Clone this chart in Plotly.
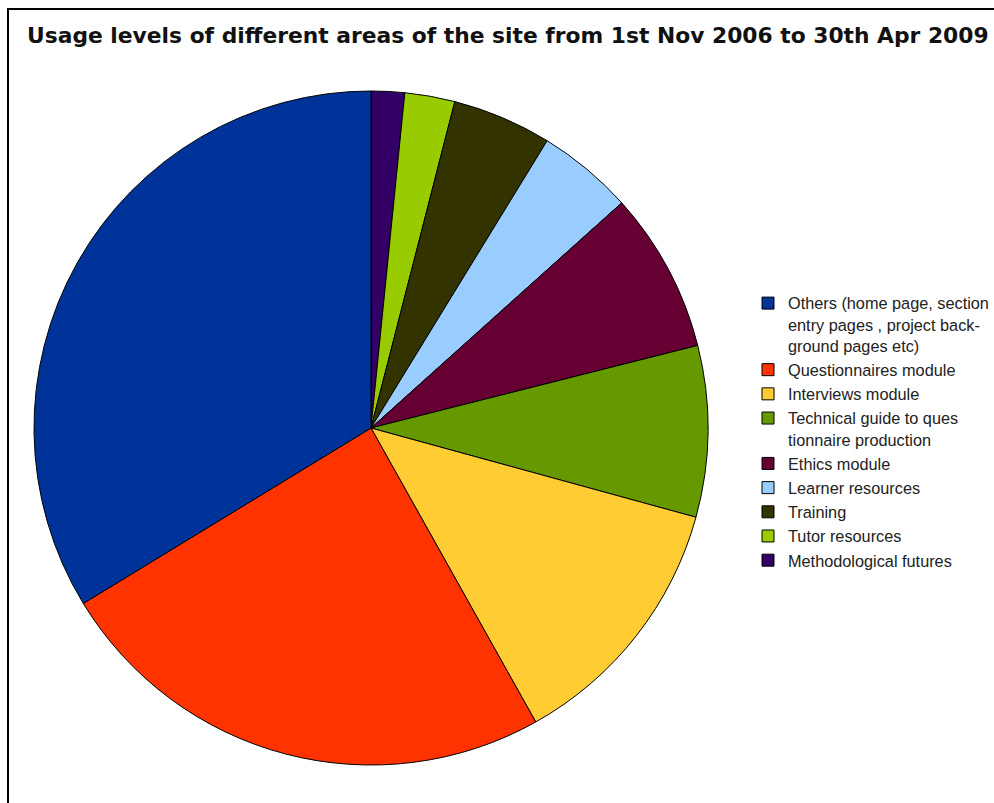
import plotly.graph_objects as go

W, H = 994, 803

# Site areas and their share of page usage (percent)
areas = [
    "Others (home page, section<br>entry pages , project back-<br>ground pages etc)",
    "Questionnaires module",
    "Interviews module",
    "Technical guide to ques<br>tionnaire production",
    "Ethics module",
    "Learner resources",
    "Training",
    "Tutor resources",
    "Methodological futures",
]
usage = [33.7, 24.4, 12.6, 8.2, 7.7, 4.6, 4.75, 2.4, 1.6]
colors = ["#003399", "#ff3300", "#ffcc33", "#669900", "#660033",
          "#99ccff", "#333300", "#99cc00", "#330066"]

title_text = "Usage levels of different areas of the site from 1st Nov 2006 to 30th Apr 2009"

# pie placement in pixels
cx, cy, r = 371, 428, 337

# slices run anticlockwise from 12 o'clock: feed them in reverse, drawn clockwise,
# and reverse the legend back to the natural order
fig = go.Figure(go.Pie(
    labels=areas[::-1],
    values=usage[::-1],
    marker=dict(colors=colors[::-1], line=dict(color="#000000", width=1)),
    sort=False,
    direction="clockwise",
    rotation=0,
    textinfo="none",
    hoverinfo="label+percent",
    domain=dict(x=[(cx - r) / W, (cx + r) / W],
                y=[(H - cy - r) / H, (H - cy + r) / H]),
))

fig.update_layout(
    width=W, height=H,
    margin=dict(l=0, r=0, t=0, b=0),
    paper_bgcolor="white",
    title=dict(text="<b>" + title_text + "</b>",
               x=27 / W, xanchor="left", y=(H - 35) / H, yanchor="middle",
               font=dict(family="DejaVu Sans", size=21.8, color="#111111")),
    legend=dict(x=748 / W, xanchor="left", y=(H - 286) / H, yanchor="top",
                valign="top", bgcolor="rgba(0,0,0,0)", traceorder="reversed",
                font=dict(family="Liberation Sans", size=16.3, color="#222222"),
                itemclick=False),
    shapes=[dict(type="rect", xref="paper", yref="paper",
                 x0=8 / W, x1=1.1, y0=-0.1, y1=(H - 9) / H,
                 line=dict(color="#000000", width=2), fillcolor="rgba(0,0,0,0)")],
)

fig.write_html("out.html")
